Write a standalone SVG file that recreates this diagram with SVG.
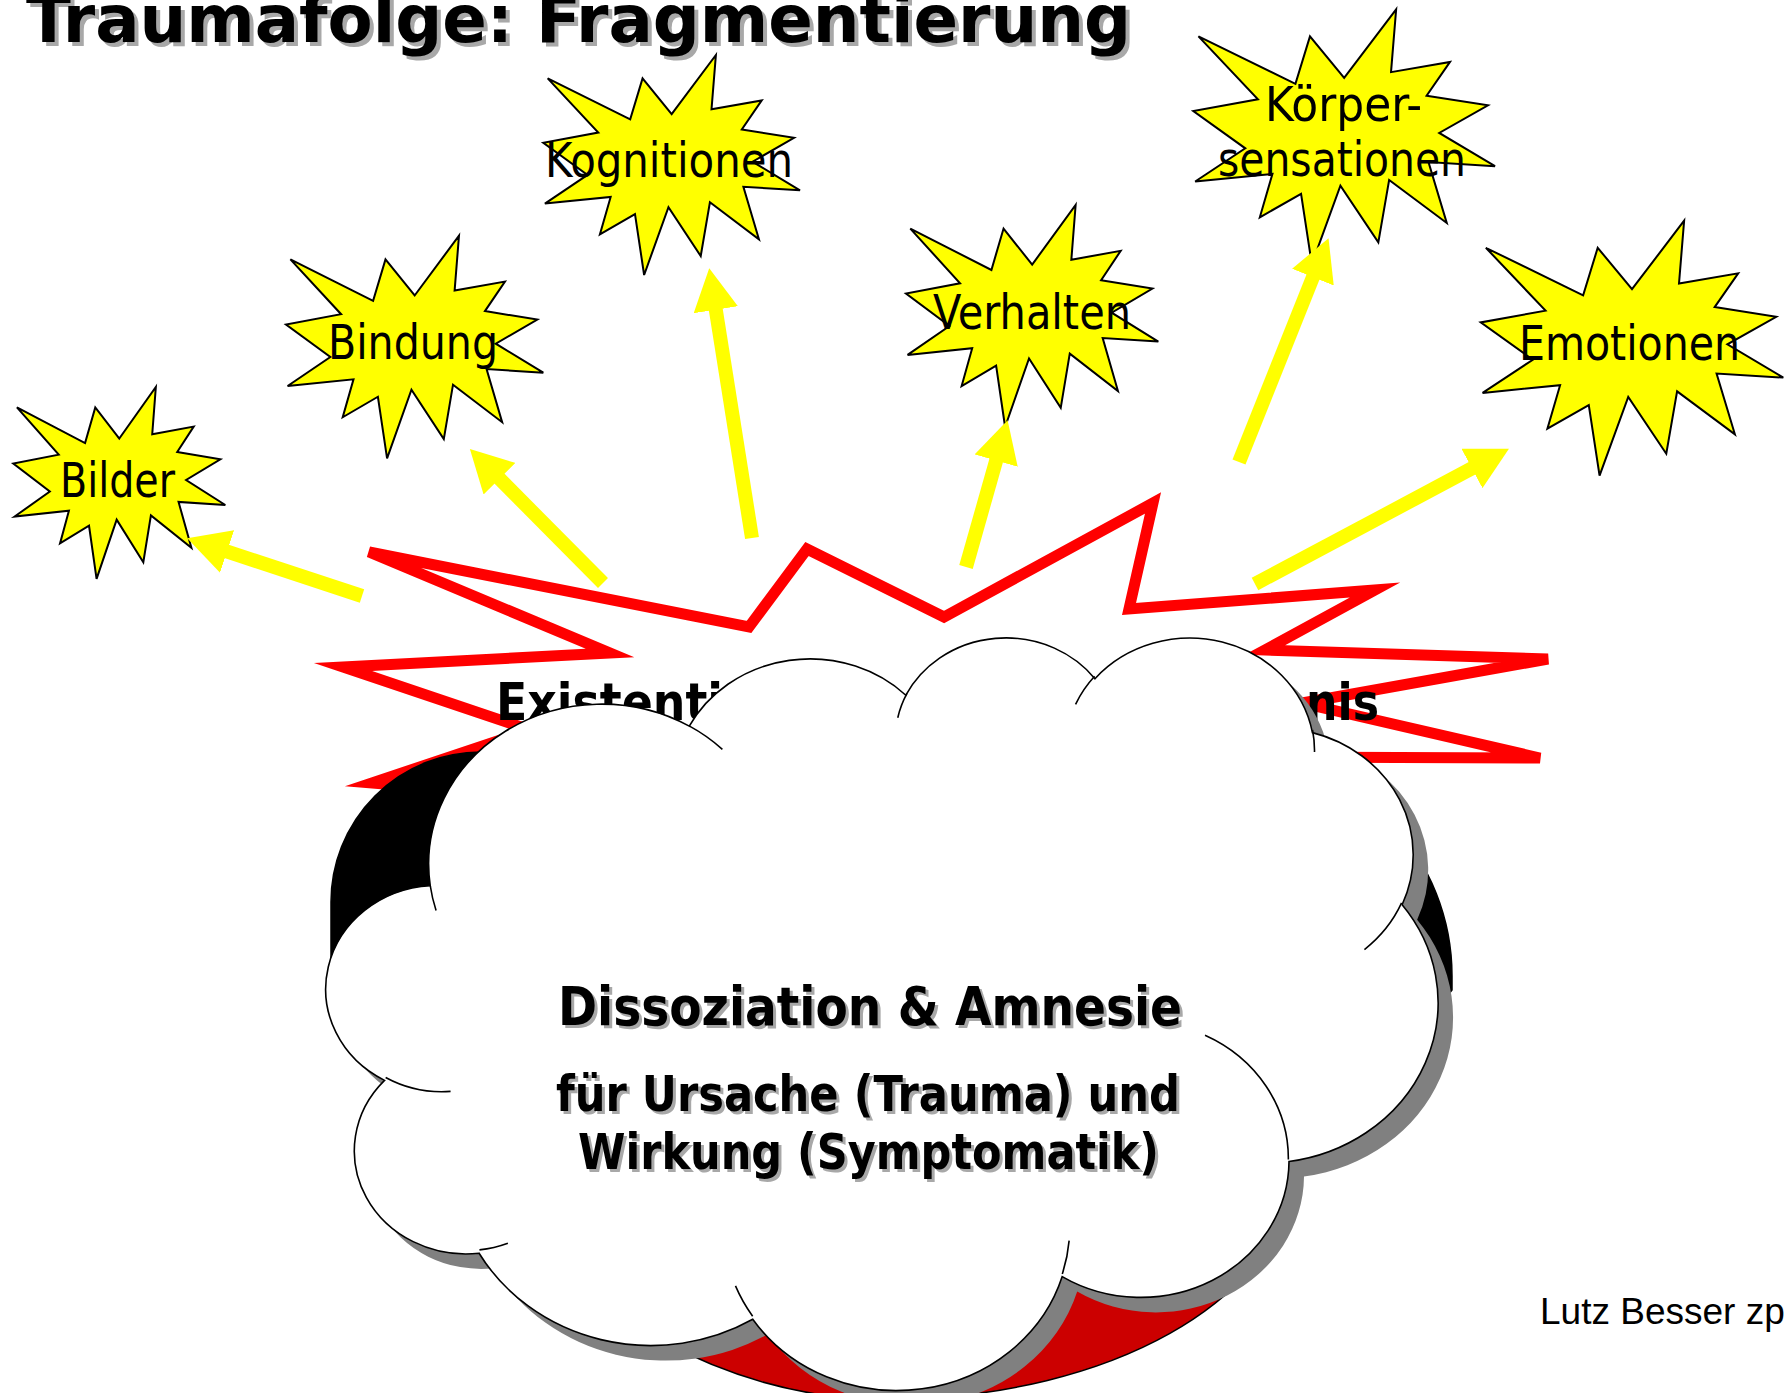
<svg xmlns="http://www.w3.org/2000/svg" width="1786" height="1393" viewBox="0 0 1786 1393">
<defs>
  <style>
    .star { fill:#FFFF00; stroke:#000000; stroke-width:2; }
    .lbl { font-family:"DejaVu Sans Condensed","DejaVu Sans",Verdana,sans-serif; font-size:48px; fill:#000000; }
    .arrow { stroke:#FFFF00; stroke-width:14; fill:none; marker-end:url(#ah); }
    .bold { font-family:"DejaVu Sans Condensed","DejaVu Sans",Verdana,sans-serif; font-weight:bold; }
    .tshadow { fill:#A8A8A8; }
    .cloudshadow { fill:#808080; stroke:none; }
    .cloud { fill:#FFFFFF; stroke:#000000; stroke-width:1.6; }
    .cloudline { fill:none; stroke:#000000; stroke-width:1.6; }
    .foot { font-family:"Liberation Sans",Arial,sans-serif; font-size:37px; fill:#000000; }
  </style>
  <path id="seal" vector-effect="non-scaling-stroke" d="M10800,5800 L14522,0 L14155,5325 L18380,4457 L16702,7315 L21097,8137 L17607,10475 L21600,13290 L16837,12942 L18145,18095 L14020,14457 L13247,19737 L10532,14935 L8485,21600 L7715,15627 L4762,17617 L5667,13937 L135,14587 L3722,11775 L0,8615 L4627,7617 L370,2295 L7312,6320 L8352,2295 Z"/>
  <path id="cloudPath" vector-effect="non-scaling-stroke" d="M3900,14370 A6753,9190 0 0 1 14005.8,5202.7 A5333,7267 0 0 1 22456.2,3430.6 A4365,5945 0 0 1 29834,2480.9 A4857,6595 0 0 1 38319.2,5576 A5333,7273 0 0 1 41819.6,15459.6 A6775,9220 0 0 1 37405.7,30203.3 A5785,7867 0 0 1 28556.8,36813.2 A6752,9215 0 0 1 16482.1,39266 A7720,10543 0 0 1 5805.7,35470.3 A4360,5918 0 0 1 2116.2,25545.9 A4345,5945 0 0 1 3900,14370 Z"/>
  <path id="cloudInner" vector-effect="non-scaling-stroke" d="M4693,26177 A4345,5945 0 0 1 2159.3,25379.6 M6928,34899 A4360,5918 0 0 1 5819.3,35280.5 M16478,39090 A6752,9215 0 0 1 15809.4,37347.9 M28827,34751 A6752,9215 0 0 1 28560.4,36660.1 M34129,22954 A5785,7867 0 0 1 37380.4,30089.6 M41798,15354 A5333,7273 0 0 1 40349.4,18030.8 M38324,5426 A4857,6595 0 0 1 38400.4,6689.7 M29078,3952 A4857,6595 0 0 1 29819.8,2339.6 M22141,4720 A4365,5945 0 0 1 22500.2,3330.1 M14000,5192 A6753,9190 0 0 1 15298.2,6538.7 M4127,15789 A6753,9190 0 0 1 3900,14370"/>
  <marker id="ah" viewBox="0 0 10 10" refX="0.3" refY="5" markerWidth="3" markerHeight="3.2" orient="auto" markerUnits="strokeWidth" preserveAspectRatio="none">
    <path d="M0,0 L10,5 L0,10 Z" fill="#FFFF00"/>
  </marker>
  <linearGradient id="bombFill" gradientUnits="userSpaceOnUse" x1="0" y1="752" x2="0" y2="1400">
    <stop offset="0.6" stop-color="#000000"/>
    <stop offset="0.6" stop-color="#CC0000"/>
  </linearGradient>
</defs>
<rect width="1786" height="1393" fill="#FFFFFF"/>

<g id="title">
  <text class="bold tshadow" x="30" y="46" font-size="66" textLength="1105" lengthAdjust="spacingAndGlyphs">Traumafolge: Fragmentierung</text>
  <text class="bold" x="26" y="42" font-size="66" textLength="1105" lengthAdjust="spacingAndGlyphs" fill="#000000">Traumafolge: Fragmentierung</text>
</g>

<g id="explosion">
  <path d="M369,552 L749,627 L807,549 L944,617 L1153,503 L1129,609 L1375,590 L1265,650 L1548,659 L1302,703 L1540,758 L1250,757 L1100,800 L900,820 L700,810 L372,783 L530,730 L343,667 L610,653 Z" fill="none" stroke="#FF0000" stroke-width="11" stroke-linejoin="miter" stroke-miterlimit="8"/>
</g>

<g id="bomb">
  <path d="M331,985 L331,902 A150,150 0 0 1 481,752 L1228,752 A224,224 0 0 1 1452,976 L1452,990 L1298,1182 C1270,1300 1120,1395 891.5,1400 C640,1400 450,1200 331,985 Z" fill="url(#bombFill)" stroke="#000000" stroke-width="1.5"/>
</g>

<g id="explosion-text">
  <text class="bold" x="496" y="720" font-size="52" textLength="227" lengthAdjust="spacingAndGlyphs">Existenti</text>
  <text class="bold" x="1306" y="720" font-size="52" textLength="73" lengthAdjust="spacingAndGlyphs">nis</text>
</g>

<g id="cloud">
  <use href="#cloudPath" class="cloudshadow" transform="translate(345.3,650.5) scale(0.02563,0.017415)"/>
  <use href="#cloudPath" class="cloud" transform="translate(330.3,635.5) scale(0.02563,0.017415)"/>
  <use href="#cloudInner" class="cloudline" transform="translate(330.3,635.5) scale(0.02563,0.017415)"/>
  <text class="bold tshadow" x="561" y="1028" font-size="53" textLength="624" lengthAdjust="spacingAndGlyphs">Dissoziation &amp; Amnesie</text>
  <text class="bold" x="558" y="1025" font-size="53" textLength="624" lengthAdjust="spacingAndGlyphs">Dissoziation &amp; Amnesie</text>
  <text class="bold tshadow" x="559" y="1114" font-size="50" textLength="624" lengthAdjust="spacingAndGlyphs">für Ursache (Trauma) und</text>
  <text class="bold" x="556" y="1111" font-size="50" textLength="624" lengthAdjust="spacingAndGlyphs">für Ursache (Trauma) und</text>
  <text class="bold tshadow" x="581" y="1172" font-size="50" textLength="581" lengthAdjust="spacingAndGlyphs">Wirkung (Symptomatik)</text>
  <text class="bold" x="578" y="1169" font-size="50" textLength="581" lengthAdjust="spacingAndGlyphs">Wirkung (Symptomatik)</text>
</g>

<g id="star-bilder">
  <use href="#seal" class="star" transform="translate(13.3,387) scale(0.009815,0.00888)"/>
  <text class="lbl" x="60" y="497" textLength="115" lengthAdjust="spacingAndGlyphs">Bilder</text>
</g>
<g id="star-bindung">
  <use href="#seal" class="star" transform="translate(286,235.7) scale(0.011912,0.010306)"/>
  <text class="lbl" x="328" y="359" textLength="170" lengthAdjust="spacingAndGlyphs">Bindung</text>
</g>
<g id="star-kognitionen">
  <use href="#seal" class="star" transform="translate(543.3,55) scale(0.011884,0.010185)"/>
  <text class="lbl" x="545" y="177" textLength="248" lengthAdjust="spacingAndGlyphs">Kognitionen</text>
</g>
<g id="star-verhalten">
  <use href="#seal" class="star" transform="translate(906,205) scale(0.011681,0.010278)"/>
  <text class="lbl" x="933" y="329" textLength="198" lengthAdjust="spacingAndGlyphs">Verhalten</text>
</g>
<g id="star-koerper">
  <use href="#seal" class="star" transform="translate(1193.3,9.3) scale(0.013968,0.011806)"/>
  <text class="lbl" x="1265" y="121" textLength="157" lengthAdjust="spacingAndGlyphs">Körper-</text>
  <text class="lbl" x="1218" y="176" textLength="248" lengthAdjust="spacingAndGlyphs">sensationen</text>
</g>
<g id="star-emotionen">
  <use href="#seal" class="star" transform="translate(1480.7,220.7) scale(0.014009,0.011806)"/>
  <text class="lbl" x="1519" y="360" textLength="221" lengthAdjust="spacingAndGlyphs">Emotionen</text>
</g>

<g id="connectors">
  <line class="arrow" x1="362" y1="596" x2="225.9" y2="551.1"/>
  <line class="arrow" x1="603" y1="583" x2="498.6" y2="477.8"/>
  <line class="arrow" x1="752" y1="538" x2="715.6" y2="308.5"/>
  <line class="arrow" x1="966" y1="567" x2="996.5" y2="459.4"/>
  <line class="arrow" x1="1239" y1="462" x2="1313.4" y2="276"/>
  <line class="arrow" x1="1255" y1="584" x2="1473" y2="467.8"/>
</g>

<g id="footer">
  <text class="foot" x="1540" y="1324">Lutz Besser zp</text>
</g>
</svg>
